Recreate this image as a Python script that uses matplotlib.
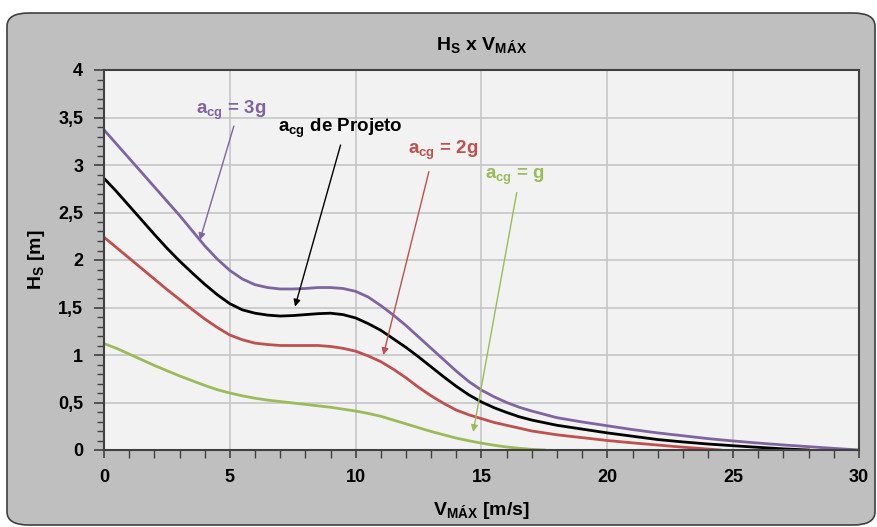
import matplotlib
matplotlib.use('Agg')
import matplotlib.pyplot as plt
from matplotlib.patches import FancyBboxPatch
from matplotlib.ticker import MultipleLocator, FixedLocator, FixedFormatter

# Curvas Hs x Vmax para cada aceleração vertical no CG
v_3g = [0, 0.5, 1, 1.5, 2, 2.5, 3, 3.5, 4, 4.5, 5, 5.5, 6, 6.5, 7, 7.5, 8, 8.5, 9, 9.5, 10,
        10.5, 11, 11.5, 12, 12.5, 13, 13.5, 14, 14.5, 15, 15.5, 16, 16.5, 17, 18, 19, 20,
        21, 22, 23, 24, 25, 26, 27, 28, 29, 30]
hs_3g = [3.37, 3.22, 3.07, 2.92, 2.77, 2.62, 2.47, 2.31, 2.15, 2.01, 1.89, 1.80, 1.74, 1.71,
         1.695, 1.695, 1.70, 1.71, 1.71, 1.70, 1.67, 1.61, 1.52, 1.42, 1.31, 1.19, 1.07, 0.95,
         0.83, 0.72, 0.63, 0.56, 0.50, 0.45, 0.41, 0.34, 0.295, 0.255, 0.215, 0.18, 0.15,
         0.12, 0.095, 0.073, 0.053, 0.035, 0.017, 0.0]

v_proj = [0, 0.5, 1, 1.5, 2, 2.5, 3, 3.5, 4, 4.5, 5, 5.5, 6, 6.5, 7, 7.5, 8, 8.5, 9, 9.5, 10,
          10.5, 11, 11.5, 12, 12.5, 13, 13.5, 14, 14.5, 15, 15.5, 16, 16.5, 17, 18, 19, 20,
          21, 22, 23, 24, 25, 26, 27, 28]
hs_proj = [2.86, 2.72, 2.57, 2.42, 2.27, 2.125, 1.99, 1.865, 1.745, 1.635, 1.54, 1.475, 1.44,
           1.42, 1.41, 1.415, 1.425, 1.435, 1.44, 1.425, 1.39, 1.33, 1.26, 1.17, 1.08, 0.98,
           0.875, 0.77, 0.67, 0.58, 0.505, 0.445, 0.395, 0.35, 0.315, 0.26, 0.22, 0.18,
           0.145, 0.11, 0.085, 0.063, 0.045, 0.028, 0.012, 0.0]

v_2g = [0, 0.5, 1, 1.5, 2, 2.5, 3, 3.5, 4, 4.5, 5, 5.5, 6, 6.5, 7, 7.5, 8, 8.5, 9, 9.5, 10,
        10.5, 11, 11.5, 12, 12.5, 13, 13.5, 14, 14.5, 15, 15.5, 16, 16.5, 17, 18, 19, 20,
        21, 22, 23, 24, 24.5]
hs_2g = [2.24, 2.13, 2.02, 1.91, 1.80, 1.69, 1.585, 1.48, 1.38, 1.29, 1.21, 1.16, 1.125,
         1.11, 1.10, 1.10, 1.10, 1.10, 1.09, 1.07, 1.04, 0.99, 0.93, 0.85, 0.76, 0.66, 0.57,
         0.49, 0.42, 0.37, 0.33, 0.29, 0.26, 0.23, 0.20, 0.16, 0.13, 0.10, 0.075, 0.052,
         0.03, 0.01, 0.0]

v_1g = [0, 0.5, 1, 1.5, 2, 2.5, 3, 3.5, 4, 4.5, 5, 5.5, 6, 6.5, 7, 7.5, 8, 8.5, 9, 9.5, 10,
        10.5, 11, 11.5, 12, 12.5, 13, 13.5, 14, 14.5, 15, 15.5, 16, 16.5, 17, 17.5]
hs_1g = [1.12, 1.07, 1.01, 0.95, 0.89, 0.835, 0.78, 0.73, 0.68, 0.635, 0.60, 0.57, 0.545,
         0.525, 0.51, 0.495, 0.48, 0.465, 0.45, 0.43, 0.41, 0.385, 0.355, 0.315, 0.275,
         0.235, 0.195, 0.16, 0.125, 0.097, 0.072, 0.05, 0.032, 0.018, 0.007, 0.0]

x_ticks = [0, 5, 10, 15, 20, 25, 30]
y_ticks = [0, 0.5, 1, 1.5, 2, 2.5, 3, 3.5, 4]
y_labels = ['0', '0,5', '1', '1,5', '2', '2,5', '3', '3,5', '4']

roxo = '#8064A2'
vermelho = '#C0504D'
verde = '#9BBB59'
preto = '#000000'

plt.rcParams['font.family'] = ['Liberation Sans', 'DejaVu Sans']
plt.rcParams['font.weight'] = 'bold'
plt.rcParams['axes.titleweight'] = 'bold'
plt.rcParams['axes.labelweight'] = 'bold'
plt.rcParams['mathtext.fontset'] = 'custom'
plt.rcParams['mathtext.rm'] = 'Liberation Sans:bold'
plt.rcParams['mathtext.sf'] = 'Liberation Sans:bold'

fig = plt.figure(figsize=(8.77, 5.27), dpi=100)
fig.patch.set_facecolor('white')

# moldura cinza arredondada, atrás dos eixos
moldura = FancyBboxPatch((7 / 877, 2 / 527), 868 / 877, 512 / 527,
                         boxstyle='round,pad=0,rounding_size=0.025',
                         transform=fig.transFigure, facecolor='#bfbfbf',
                         edgecolor='#404040', linewidth=1.2, zorder=-10)
fig.add_artist(moldura)

ax = fig.add_axes([104 / 877, 77 / 527, 755 / 877, 380 / 527])
ax.set_zorder(1)
ax.set_facecolor('#f2f2f2')

ax.plot(v_3g, hs_3g, color=roxo, lw=2)
ax.plot(v_proj, hs_proj, color=preto, lw=2)
ax.plot(v_2g, hs_2g, color=vermelho, lw=2)
ax.plot(v_1g, hs_1g, color=verde, lw=2)

ax.set_xlim(0, 30)
ax.set_ylim(0, 4)
ax.xaxis.set_major_locator(FixedLocator(x_ticks))
ax.yaxis.set_major_locator(FixedLocator(y_ticks))
ax.yaxis.set_major_formatter(FixedFormatter(y_labels))
ax.xaxis.set_minor_locator(MultipleLocator(1))
ax.yaxis.set_minor_locator(MultipleLocator(0.1))

ax.grid(True, which='major', color='#c6c6c6', lw=1.2)
ax.set_axisbelow(True)
for s in ax.spines.values():
    s.set_color('#404040')
    s.set_linewidth(1.5)

ax.tick_params(axis='both', which='major', direction='out', length=7, width=1.2,
               color='#404040', labelsize=13, pad=8)
ax.tick_params(axis='both', which='minor', direction='out', length=5, width=1,
               color='#404040')
ax.tick_params(axis='x', which='both', length=6)

ax.set_xlabel(r'V$_\mathrm{MÁX}$ [m/s]', fontsize=14, labelpad=10)
ax.set_ylabel(r'H$_\mathrm{S}$ [m]', fontsize=14, labelpad=8)
ax.set_title(r'H$_\mathrm{S}$ x V$_\mathrm{MÁX}$', fontsize=14, pad=14)

# anotações com setas
seta = dict(arrowstyle='-|>', lw=1, mutation_scale=10, shrinkA=0, shrinkB=0)
notas = [
    (r'a$_\mathsf{cg}$ = 3g', (5.05, 3.58), (5.16, 3.41), (3.81, 2.21), roxo),
    (r'a$_\mathsf{cg}$ de Projeto', (9.38, 3.39), (9.40, 3.21), (7.59, 1.51), preto),
    (r'a$_\mathsf{cg}$ = 2g', (13.47, 3.16), (12.91, 2.93), (11.10, 1.00), vermelho),
    (r'a$_\mathsf{cg}$ = g', (16.35, 2.88), (16.40, 2.71), (14.67, 0.19), verde),
]
for texto, pos, ini, fim, cor in notas:
    ax.text(pos[0], pos[1], texto, color=cor, fontsize=13.5, ha='center', va='center')
    ax.annotate('', xy=fim, xytext=ini, arrowprops=dict(seta, color=cor))

plt.savefig('out.png', dpi=100, facecolor=fig.get_facecolor())
plt.close()
